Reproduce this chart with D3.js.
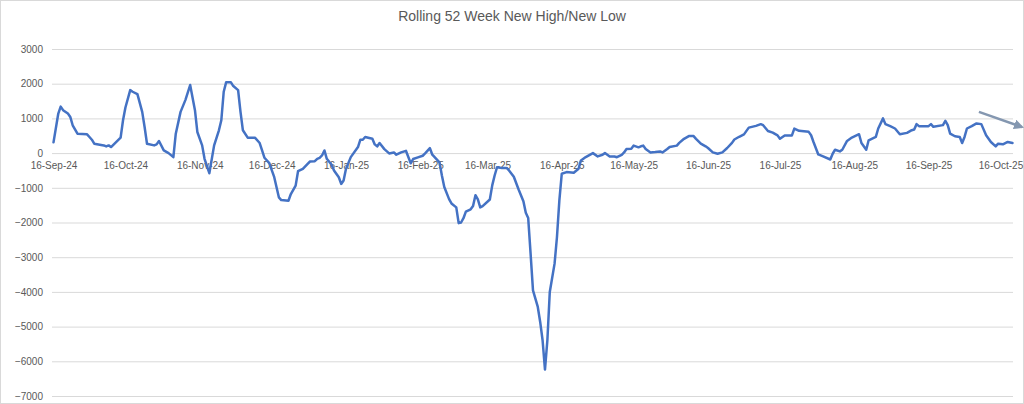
<!DOCTYPE html>
<html><head><meta charset="utf-8">
<script src="https://cdn.jsdelivr.net/npm/d3@7"></script>
<style>
html,body{margin:0;padding:0;background:#fff;}
svg{display:block;font-family:"Liberation Sans",Arial,sans-serif;}
</style></head>
<body><svg id="c" width="1024" height="404"></svg>
<script>
const title = "Rolling 52 Week New High/New Low";
const dates = ["2024-09-16","2024-09-18","2024-09-19","2024-09-20","2024-09-22","2024-09-23","2024-09-24","2024-09-26","2024-09-30","2024-10-01","2024-10-02","2024-10-03","2024-10-07","2024-10-08","2024-10-09","2024-10-10","2024-10-14","2024-10-15","2024-10-16","2024-10-18","2024-10-19","2024-10-21","2024-10-23","2024-10-24","2024-10-25","2024-10-28","2024-10-29","2024-10-30","2024-11-01","2024-11-03","2024-11-05","2024-11-06","2024-11-08","2024-11-10","2024-11-12","2024-11-14","2024-11-15","2024-11-17","2024-11-18","2024-11-20","2024-11-22","2024-11-24","2024-11-25","2024-11-26","2024-11-27","2024-11-29","2024-11-30","2024-12-02","2024-12-03","2024-12-04","2024-12-06","2024-12-09","2024-12-11","2024-12-12","2024-12-13","2024-12-15","2024-12-17","2024-12-19","2024-12-20","2024-12-23","2024-12-24","2024-12-26","2024-12-27","2024-12-29","2024-12-31","2025-01-01","2025-01-03","2025-01-04","2025-01-05","2025-01-06","2025-01-07","2025-01-08","2025-01-10","2025-01-11","2025-01-13","2025-01-14","2025-01-15","2025-01-16","2025-01-18","2025-01-21","2025-01-22","2025-01-23","2025-01-24","2025-01-27","2025-01-28","2025-01-29","2025-01-30","2025-02-01","2025-02-03","2025-02-05","2025-02-06","2025-02-08","2025-02-10","2025-02-12","2025-02-13","2025-02-15","2025-02-17","2025-02-18","2025-02-20","2025-02-21","2025-02-24","2025-02-25","2025-02-26","2025-02-28","2025-03-01","2025-03-03","2025-03-04","2025-03-05","2025-03-06","2025-03-07","2025-03-09","2025-03-10","2025-03-11","2025-03-12","2025-03-13","2025-03-14","2025-03-17","2025-03-18","2025-03-19","2025-03-20","2025-03-22","2025-03-24","2025-03-25","2025-03-27","2025-03-29","2025-03-31","2025-04-01","2025-04-02","2025-04-03","2025-04-04","2025-04-06","2025-04-07","2025-04-08","2025-04-09","2025-04-10","2025-04-11","2025-04-13","2025-04-14","2025-04-15","2025-04-16","2025-04-18","2025-04-21","2025-04-23","2025-04-24","2025-04-26","2025-04-29","2025-05-01","2025-05-03","2025-05-04","2025-05-06","2025-05-08","2025-05-09","2025-05-11","2025-05-12","2025-05-13","2025-05-15","2025-05-16","2025-05-18","2025-05-19","2025-05-20","2025-05-21","2025-05-23","2025-05-25","2025-05-27","2025-05-28","2025-05-30","2025-05-31","2025-06-03","2025-06-04","2025-06-06","2025-06-08","2025-06-10","2025-06-11","2025-06-13","2025-06-15","2025-06-16","2025-06-18","2025-06-20","2025-06-22","2025-06-24","2025-06-26","2025-06-27","2025-06-29","2025-07-01","2025-07-03","2025-07-06","2025-07-08","2025-07-09","2025-07-11","2025-07-13","2025-07-15","2025-07-16","2025-07-18","2025-07-21","2025-07-22","2025-07-24","2025-07-28","2025-07-29","2025-07-30","2025-08-01","2025-08-03","2025-08-06","2025-08-07","2025-08-08","2025-08-10","2025-08-11","2025-08-13","2025-08-15","2025-08-18","2025-08-19","2025-08-21","2025-08-22","2025-08-25","2025-08-26","2025-08-28","2025-08-29","2025-08-31","2025-09-02","2025-09-04","2025-09-07","2025-09-09","2025-09-10","2025-09-11","2025-09-12","2025-09-16","2025-09-17","2025-09-18","2025-09-22","2025-09-23","2025-09-24","2025-09-25","2025-09-27","2025-09-29","2025-09-30","2025-10-01","2025-10-02","2025-10-04","2025-10-06","2025-10-08","2025-10-10","2025-10-12","2025-10-14","2025-10-15","2025-10-17","2025-10-19","2025-10-21"];
const values = [310,1140,1340,1237,1140,1043,802,560,541,464,386,270,222,193,222,174,444,947,1314,1816,1768,1700,1188,754,270,222,251,348,77,0,-116,560,1188,1527,1961,1237,609,222,-164,-580,222,657,947,1768,2039,2039,1932,1816,1188,657,444,444,290,77,-135,-290,-676,-1275,-1353,-1372,-1179,-937,-522,-454,-309,-242,-232,-164,-135,-68,77,-164,-338,-502,-696,-889,-792,-454,-116,174,386,386,464,415,251,193,290,114,-9,19,-47,19,66,-294,-171,-123,-76,-9,142,-47,-265,-645,-976,-1327,-1450,-1564,-2019,-2000,-1877,-1687,-1621,-1526,-1213,-1336,-1564,-1526,-1336,-929,-645,-408,-427,-427,-500,-680,-1050,-1390,-1720,-1870,-2898,-3954,-4434,-4866,-5393,-6238,-5393,-4002,-3186,-2418,-1363,-595,-547,-566,-451,-211,-115,0,-96,-48,0,-98,-98,-118,-49,20,118,127,216,167,196,216,118,20,29,49,20,118,176,216,294,412,490,490,412,275,196,147,20,-20,20,147,294,392,471,539,735,784,833,804,637,588,510,412,510,510,706,641,612,515,320,-39,-97,-184,-19,97,49,97,350,447,544,291,97,369,466,709,1000,835,777,709,544,583,660,680,835,777,777,835,757,806,932,806,563,485,466,291,466,709,777,854,835,515,320,194,272,252,320,291];
const xTickDates = ["2024-09-16","2024-10-16","2024-11-16","2024-12-16","2025-01-16","2025-02-16","2025-03-16","2025-04-16","2025-05-16","2025-06-16","2025-07-16","2025-08-16","2025-09-16","2025-10-16"];
const yTicks = [3000,2000,1000,0,-1000,-2000,-3000,-4000,-5000,-6000,-7000];
const arrowDates = ["2025-10-07","2025-10-25"];
const arrowValues = [1190,750];

const parse = d3.utcParse("%Y-%m-%d");
const fmt = d3.utcFormat("%-d-%b-%y");
const data = dates.map((d,i)=>({date:parse(d), value:values[i]}));

const svg = d3.select("#c");
svg.append("rect").attr("x",0.5).attr("y",0.5).attr("width",1023).attr("height",403)
  .attr("fill","#fff").attr("stroke","#d9d9d9");

const x = d3.scaleUtc().domain([parse("2024-09-16"), parse("2025-10-16")]).range([53.5, 1000.5]);
const y = d3.scaleLinear().domain([-7000, 3000]).range([396, 49]);
const plotL = 52, plotR = 1013;

svg.append("text").attr("x",512).attr("y",21).attr("text-anchor","middle")
  .attr("font-size",14).attr("fill","#595959").text(title);

// gridlines
const yAxis = d3.axisLeft(y).tickValues(yTicks).tickSize(-(plotR-plotL)).tickPadding(9).tickFormat(d3.format("d"));
const gy = svg.append("g").attr("transform",`translate(${plotL},0)`).call(yAxis);
gy.select(".domain").remove();
gy.selectAll(".tick line").attr("stroke","#d9d9d9").attr("stroke-width",1);
gy.selectAll(".tick text").attr("fill","#595959").attr("font-size",10).attr("font-family","Liberation Sans, Arial, sans-serif");

// x axis labels at 0
const xAxis = d3.axisBottom(x).tickValues(xTickDates.map(parse)).tickSize(0).tickPadding(9).tickFormat(fmt);
const gx = svg.append("g").attr("transform",`translate(0,${y(0)})`).call(xAxis);
gx.select(".domain").remove();
gx.selectAll(".tick text").attr("fill","#595959").attr("font-size",10).attr("font-family","Liberation Sans, Arial, sans-serif");

// line
const line = d3.line().x(d=>x(d.date)).y(d=>y(d.value));
svg.append("path").datum(data).attr("d",line).attr("fill","none")
  .attr("stroke","#4472c4").attr("stroke-width",2.5).attr("stroke-linejoin","round").attr("stroke-linecap","round");

// arrow annotation
svg.append("defs").append("marker").attr("id","ah").attr("viewBox","0 0 10 10").attr("refX",8).attr("refY",5)
  .attr("markerWidth",4).attr("markerHeight",4).attr("orient","auto")
  .append("path").attr("d","M0,0 L10,5 L0,10 z").attr("fill","#8497b0");
const ax0 = x(parse(arrowDates[0])), ay0 = y(arrowValues[0]);
const ax1 = x(parse(arrowDates[1])), ay1 = y(arrowValues[1]);
svg.append("line").attr("x1",ax0).attr("y1",ay0).attr("x2",ax1).attr("y2",ay1)
  .attr("stroke","#8497b0").attr("stroke-width",2.5).attr("marker-end","url(#ah)");
</script></body></html>
